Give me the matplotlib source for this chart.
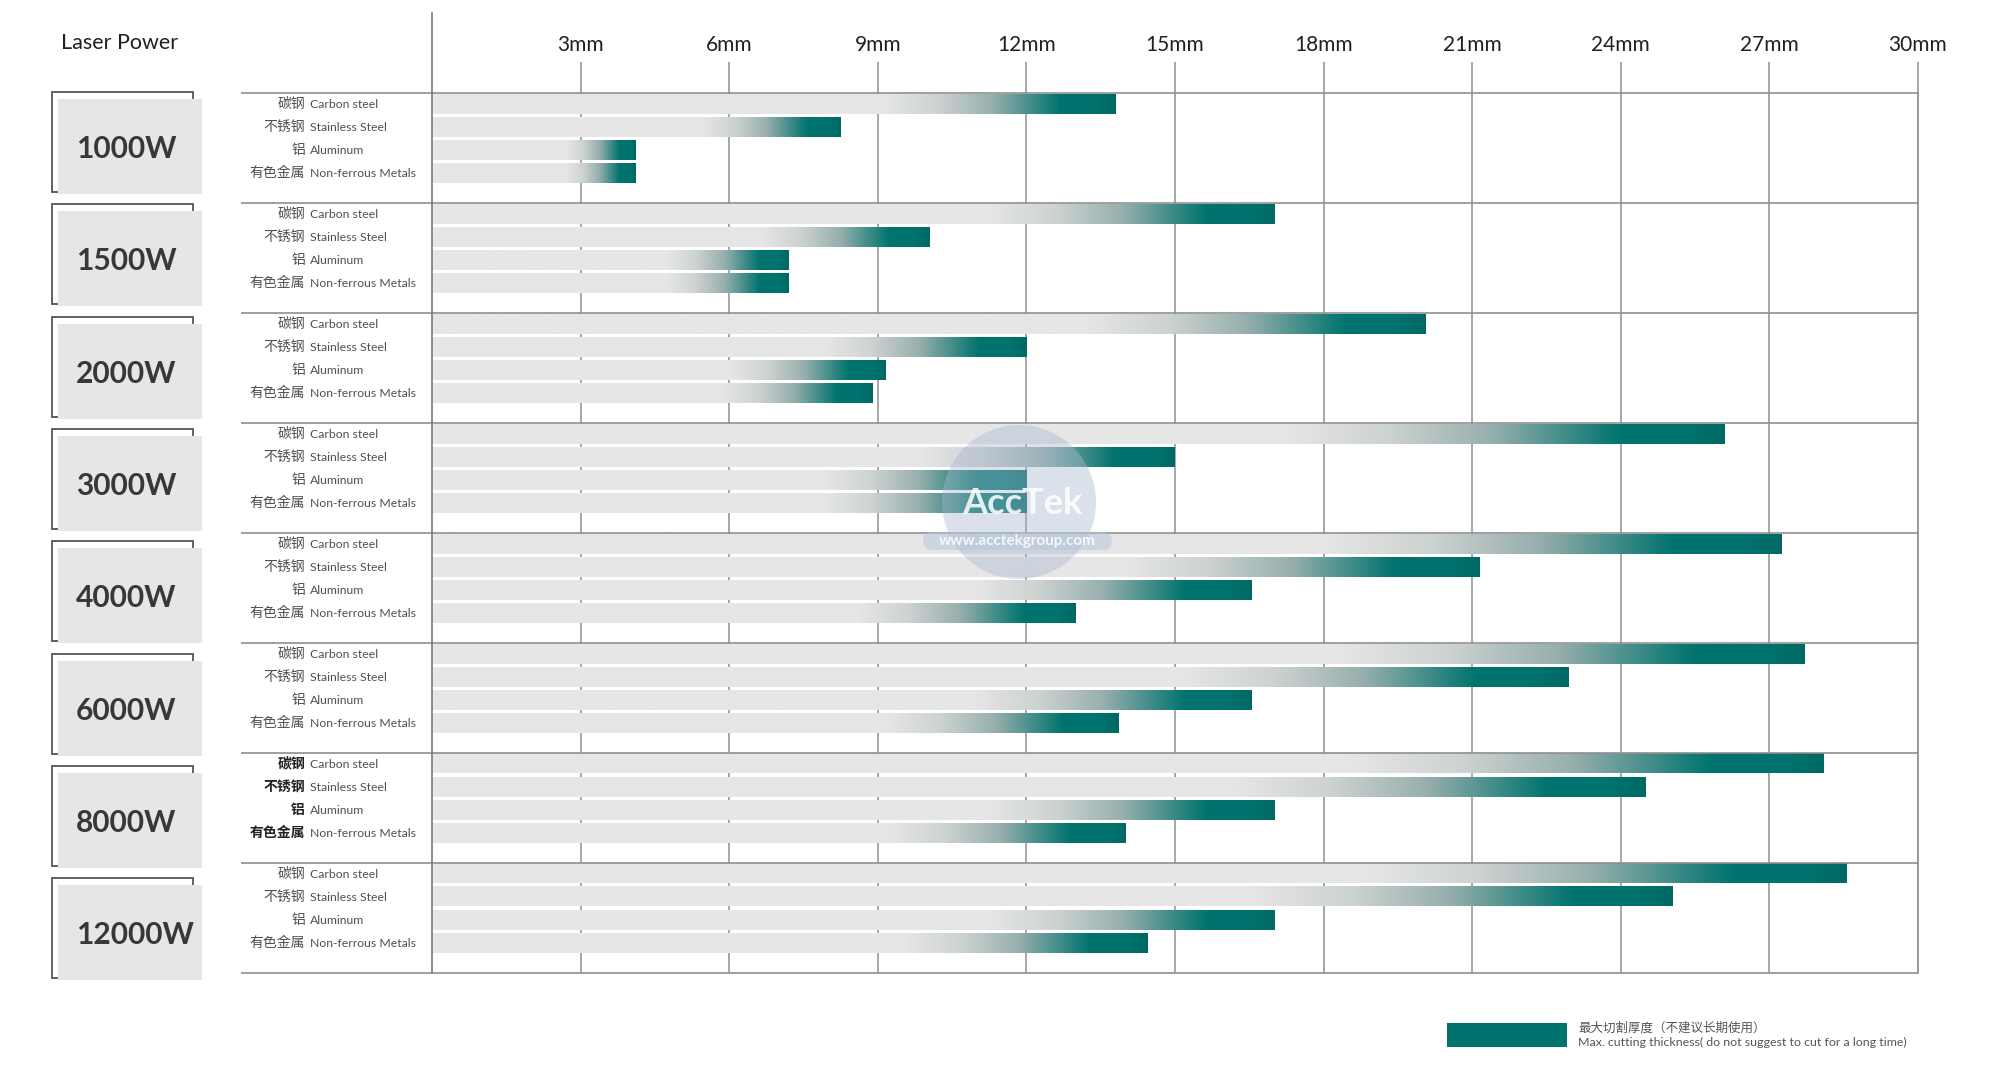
import matplotlib
matplotlib.use("Agg")
import matplotlib.pyplot as plt
import numpy as np
from matplotlib.patches import Rectangle, Circle, FancyBboxPatch
from matplotlib.colors import to_rgb

# ---------------- data ----------------
powers = ["1000W", "1500W", "2000W", "3000W", "4000W", "6000W", "8000W", "12000W"]
materials_cn = ["碳钢", "不锈钢", "铝", "有色金属"]
materials_en = ["Carbon steel", "Stainless Steel", "Aluminum", "Non-ferrous Metals"]
carbon_steel = [13.8, 17.0, 20.05, 26.1, 27.25, 27.7, 28.1, 28.55]
stainless_steel = [8.25, 10.05, 12.0, 15.0, 21.15, 22.95, 24.5, 25.05]
aluminum = [4.1, 7.2, 9.15, 12.0, 16.55, 16.55, 17.0, 17.0]
non_ferrous = [4.1, 7.2, 8.9, 12.0, 13.0, 13.85, 14.0, 14.45]
tick_values = [3, 6, 9, 12, 15, 18, 21, 24, 27, 30]
tick_labels = ["3mm", "6mm", "9mm", "12mm", "15mm", "18mm", "21mm", "24mm", "27mm", "30mm"]
legend_cn = "最大切割厚度（不建议长期使用）"
legend_en = "Max. cutting thickness( do not suggest to cut for a long time)"
series = [carbon_steel, stainless_steel, aluminum, non_ferrous]

# ---------------- style ----------------
W, H = 2000, 1066
GRAY = "#e6e6e6"
TEAL = "#00736e"
LINE = "#8f8f8f"
TXT = "#231f20"

fig = plt.figure(figsize=(W / 100, H / 100), dpi=100)
fig.patch.set_facecolor("white")

x0_px, x1_px = 432, 1918
top_px, bot_px = 93.3, 972.7
ng = len(powers)
group_px = (bot_px - top_px) / ng
px_per_mm = (x1_px - x0_px) / 30.0

ax = fig.add_axes([x0_px / W, 1 - bot_px / H, (x1_px - x0_px) / W, (bot_px - top_px) / H])

pitch = 23.1 / group_px
bh = 19.6 / group_px
off = 1.0 / group_px

# gradient stops: light gray -> desaturated grey-teal -> teal -> slightly darker end
stop_pos = [0.0, 0.66, 0.74, 0.82, 0.92, 0.97, 1.0]
stop_col = [GRAY, GRAY, "#cdd3d2", "#97afad", TEAL, TEAL, "#006965"]


def gradient_row(n=500):
    t = np.linspace(0, 1, n)
    cols = np.array([to_rgb(c) for c in stop_col])
    rgb = np.stack([np.interp(t, stop_pos, cols[:, j]) for j in range(3)], axis=1)
    return rgb[None, :, :]


grad = gradient_row()

cn_x = (305 - x0_px) / px_per_mm
en_x = (310 - x0_px) / px_per_mm
for g, p in enumerate(powers):
    for k, vals in enumerate(series):
        v = vals[g]
        top = g + off + k * pitch
        c = top + bh / 2
        ax.barh(c, v, height=bh, color=GRAY, lw=0, zorder=2)
        ax.imshow(grad, extent=(0, v, top + bh, top), aspect="auto",
                  interpolation="bilinear", zorder=3)
        bold = (p == "8000W")
        ax.text(cn_x, c, materials_cn[k], ha="right", va="center",
                fontfamily=["Noto Sans CJK SC", "DejaVu Sans"], fontsize=10,
                color="#222222" if bold else "#505050",
                fontweight="bold" if bold else "normal", clip_on=False)
        ax.text(en_x, c + 0.005, materials_en[k], ha="left", va="center",
                fontfamily="Lato", fontsize=8.8, color="#505050", clip_on=False)

ax.set_xlim(0, 30)
ax.set_ylim(ng, 0)
ax.set_xticks(tick_values)
ax.set_xticklabels(tick_labels, fontfamily="Lato", fontsize=15, color=TXT)
ax.xaxis.tick_top()
ax.tick_params(axis="x", length=22.3, width=1.1, color=LINE, pad=5)
ax.set_yticks([])
ax.grid(axis="x", color=LINE, lw=1.1)
ax.set_axisbelow(True)
for s in ax.spines.values():
    s.set_visible(False)

sep_left = (241 - x0_px) / px_per_mm
for g in range(ng + 1):
    ax.plot([sep_left, 30], [g, g], color=LINE, lw=1.2, clip_on=False, zorder=4,
            solid_capstyle="butt")
ax.plot([0, 0], [(13 - top_px) / group_px, ng], color="#7a7a7a", lw=1.2,
        clip_on=False, zorder=5)
ax.plot([30, 30], [0, ng], color=LINE, lw=1.2, clip_on=False, zorder=4)

# ---------------- overlay: left boxes, title, legend, watermark ----------------
ov = fig.add_axes([0, 0, 1, 1])
ov.set_xlim(0, W)
ov.set_ylim(H, 0)
ov.axis("off")
ov.patch.set_visible(False)

ov.text(120, 43, "Laser Power", ha="center", va="center", fontfamily="Lato",
        fontsize=15.5, color=TXT)

box_pitch = 112.3
for i, p in enumerate(powers):
    top = 92 + i * box_pitch
    ov.add_patch(Rectangle((52, top), 141, 100, fill=False, ec="#555555", lw=1.3, zorder=1))
    ov.add_patch(Rectangle((58, top + 7), 144, 95, fc=GRAY, ec="none", zorder=2))
    ov.text(76, top + 7 + 50, p, ha="left", va="center", fontfamily="Lato",
            fontweight="bold", fontsize=21.5, color="#383838", zorder=3)

# legend
ov.add_patch(Rectangle((1447, 1023), 120, 24, fc=TEAL, ec="none"))
ov.text(1578, 1028, legend_cn, ha="left", va="center",
        fontfamily=["Noto Sans CJK SC", "DejaVu Sans"], fontsize=9, color="#555555")
ov.text(1578, 1042, legend_en, ha="left", va="center",
        fontfamily="Lato", fontsize=8.9, color="#555555")

# watermark
ov.add_patch(Circle((1019, 502), 77, fc="#a9b9d0", ec="none", alpha=0.42, zorder=6))
ov.add_patch(FancyBboxPatch((923, 532), 189, 18,
                            boxstyle="round,pad=0,rounding_size=9",
                            fc="#b3c6dd", ec="none", alpha=0.5, zorder=6))
ov.text(1022, 503, "AccTek", ha="center", va="center", fontfamily="Lato",
        fontweight="bold", fontsize=26, color="white", alpha=0.85, zorder=7)
ov.text(1017, 541, "www.acctekgroup.com", ha="center", va="center",
        fontfamily="Lato", fontweight="bold", fontsize=11, color="white",
        alpha=0.85, zorder=7)

fig.savefig("out.png", dpi=100, facecolor="white")
